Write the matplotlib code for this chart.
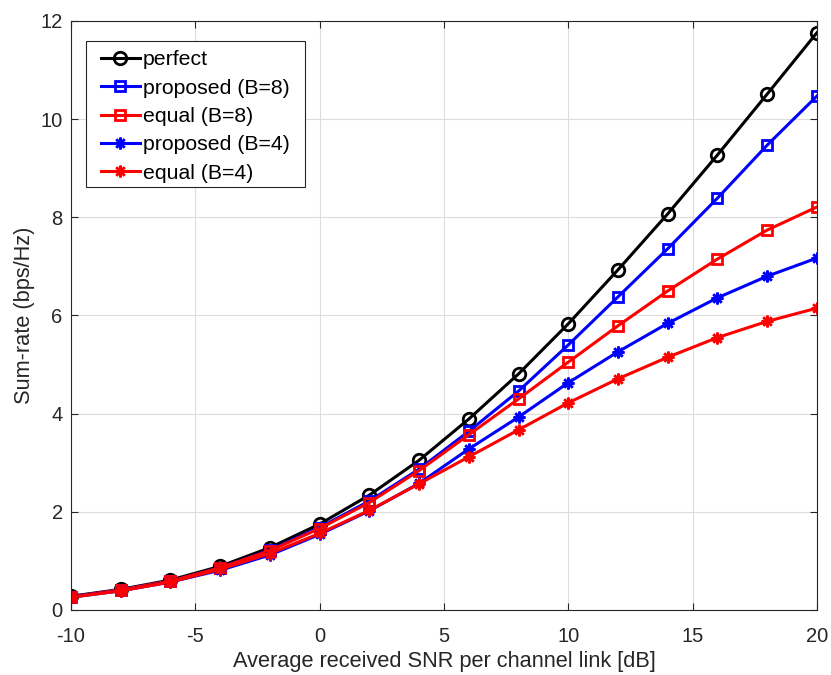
import matplotlib
matplotlib.use("Agg")
import matplotlib.pyplot as plt
from matplotlib.patches import Rectangle

plt.rcParams['font.family'] = ['Liberation Sans', 'DejaVu Sans']
plt.rcParams['axes.unicode_minus'] = False

snr_db = [-10, -8, -6, -4, -2, 0, 2, 4, 6, 8, 10, 12, 14, 16, 18, 20]

perfect = [0.28, 0.42, 0.61, 0.89, 1.27, 1.75, 2.34, 3.05, 3.89, 4.81, 5.83, 6.93, 8.07, 9.27, 10.51, 11.76]
proposed_b8 = [0.27, 0.41, 0.59, 0.86, 1.22, 1.68, 2.22, 2.87, 3.64, 4.46, 5.40, 6.38, 7.36, 8.39, 9.47, 10.47]
equal_b8 = [0.27, 0.41, 0.59, 0.86, 1.21, 1.66, 2.19, 2.84, 3.57, 4.30, 5.05, 5.79, 6.50, 7.15, 7.74, 8.21]
proposed_b4 = [0.26, 0.39, 0.57, 0.81, 1.12, 1.54, 2.02, 2.58, 3.28, 3.93, 4.63, 5.26, 5.84, 6.36, 6.80, 7.17]
equal_b4 = [0.26, 0.39, 0.57, 0.83, 1.15, 1.56, 2.03, 2.57, 3.12, 3.67, 4.22, 4.71, 5.15, 5.55, 5.88, 6.15]

# asterisk marker: 8 spokes (a plus overlaid with a cross)
asterisk = (8, 2, 0)

series = [
    (perfect, 'perfect', 'k', 'o'),
    (proposed_b8, 'proposed (B=8)', '#0000ff', 's'),
    (equal_b8, 'equal (B=8)', '#ff0000', 's'),
    (proposed_b4, 'proposed (B=4)', '#0000ff', asterisk),
    (equal_b4, 'equal (B=4)', '#ff0000', asterisk),
]

fig = plt.figure(figsize=(8.31, 6.75), dpi=100)
ax = fig.add_axes([0.0854, 0.0963, 0.8976, 0.8726])

for y, label, color, marker in series:
    if marker == 'o':
        ms, mew = 9, 2.0
    elif marker == 's':
        ms, mew = 7.5, 2.0
    else:
        ms, mew = 8.5, 1.8
    ax.plot(snr_db, y, color=color, marker=marker, markersize=ms,
            markerfacecolor='none', markeredgecolor=color, markeredgewidth=mew,
            linewidth=2.2, label=label)

ax.set_xlim(-10, 20)
ax.set_ylim(0, 12)
ax.set_xticks([-10, -5, 0, 5, 10, 15, 20])
ax.set_yticks([0, 2, 4, 6, 8, 10, 12])
ax.grid(True, color='#dcdcdc', linewidth=0.8)
ax.set_axisbelow(True)
ax.tick_params(direction='in', length=5, width=0.8, labelsize=14.5, colors='#262626',
               top=True, right=True)
ax.tick_params(axis='x', pad=12)
ax.tick_params(axis='y', pad=6)
for side in ax.spines.values():
    side.set_color('#262626')
    side.set_linewidth(0.8)

ax.set_xlabel('Average received SNR per channel link [dB]', fontsize=15.7,
              color='#262626', labelpad=4)
ax.set_ylabel('Sum-rate (bps/Hz)', fontsize=15.7, color='#262626', labelpad=4)

# legend entries without a frame; a box with wider side and top margins is drawn around them
side_pad_px = 9
top_pad_px = 3
leg = ax.legend(loc='upper left',
                bbox_to_anchor=(0.0201 + side_pad_px / 746, 0.966 - top_pad_px / 589),
                fontsize=15.3, frameon=False,
                handlelength=1.8, handletextpad=0.15, borderpad=0.3, labelspacing=0.44,
                borderaxespad=0)

fig.canvas.draw()
bb = leg.get_window_extent().transformed(fig.transFigure.inverted())
dx = side_pad_px / fig.bbox.width
dy = top_pad_px / fig.bbox.height
box = Rectangle((bb.x0 - dx, bb.y0 + dy * 0.7), bb.width + 2 * dx, bb.height + dy * 0.3,
                transform=fig.transFigure, facecolor='white', edgecolor='#262626',
                linewidth=0.8, zorder=4.5)
ax.add_artist(box)
box.set_clip_on(False)
leg.set_zorder(5)

fig.savefig('out.png', dpi=100)
